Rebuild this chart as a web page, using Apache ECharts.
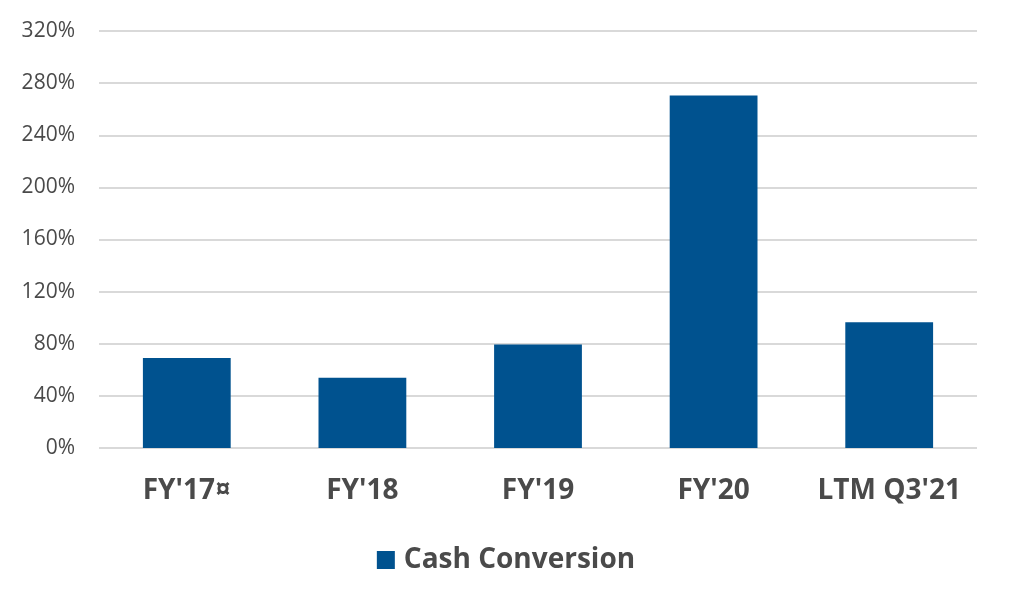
<!DOCTYPE html>
<html>
<head>
<meta charset="utf-8">
<script src="https://cdn.jsdelivr.net/npm/echarts@6/dist/echarts.min.js"></script>
<style>
  html, body { margin: 0; padding: 0; background: #fff; }
  #chart { width: 1012px; height: 606px; }
</style>
</head>
<body>
<div id="chart"></div>
<script>
const categories = ["FY'17\u00A4", "FY'18", "FY'19", "FY'20", "LTM Q3'21"];
const cashConversion = [69, 54, 79.5, 270.5, 96.5];
const yTicks = { min: 0, max: 320, interval: 40 };

const chart = echarts.init(document.getElementById('chart'));

const option = {
    animation: false,
    textStyle: { fontFamily: 'Open Sans' },
    grid: { left: 99, right: 35, top: 31, bottom: 158 },
    legend: {
        bottom: 27,
        left: 'center',
        itemWidth: 18,
        itemHeight: 18,
        itemGap: 10,
        icon: 'rect',
        textStyle: { fontSize: 28, fontWeight: 'bold', color: '#4a4a4a', fontFamily: 'Open Sans', padding: [0, 0, 0, 4] },
        data: ['Cash Conversion']
    },
    xAxis: {
        type: 'category',
        data: categories,
        axisLine: { show: false },
        axisTick: { show: false },
        axisLabel: { interval: 0, fontSize: 28, fontWeight: 'bold', color: '#4a4a4a', margin: 29 }
    },
    yAxis: {
        type: 'value',
        min: yTicks.min,
        max: yTicks.max,
        interval: yTicks.interval,
        axisLabel: { formatter: '{value}%', fontSize: 21, color: '#4a4a4a', margin: 24 },
        splitLine: { lineStyle: { color: '#d9d9d9', width: 2 } }
    },
    series: [
        {
            name: 'Cash Conversion',
            type: 'bar',
            data: cashConversion,
            barWidth: '50%',
            itemStyle: { color: '#00528f' }
        }
    ]
};

chart.setOption(option);
</script>
</body>
</html>
